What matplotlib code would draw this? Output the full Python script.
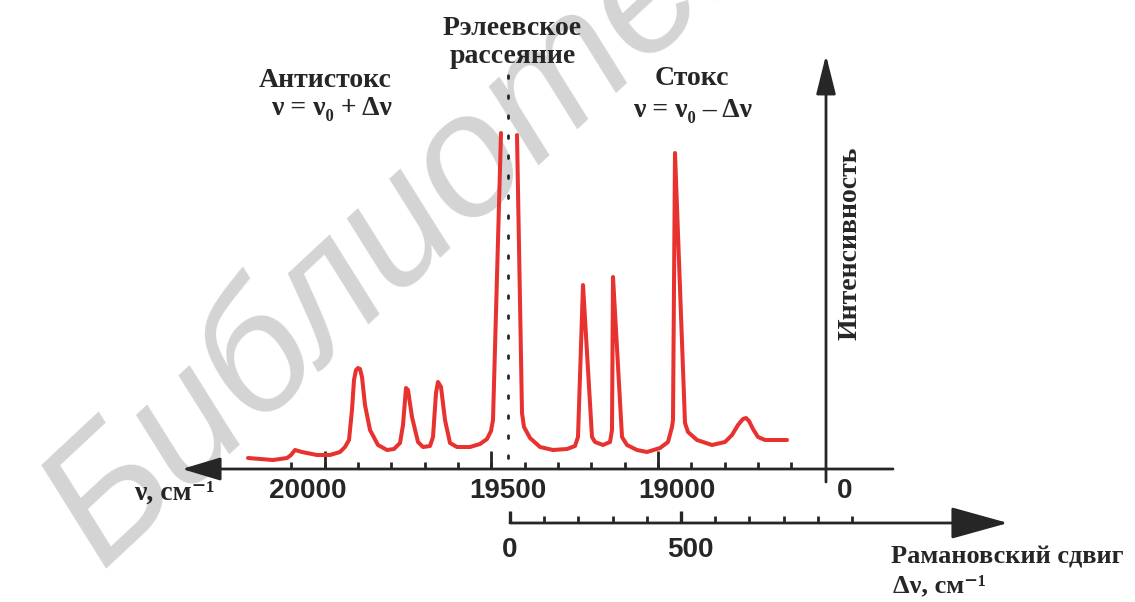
import matplotlib
matplotlib.use("Agg")
import matplotlib.pyplot as plt

# spectrum: wavenumber (cm-1) and intensity (arb. units)
# anti-Stokes side up to the left flank of the Rayleigh line
anti_nu = [20280, 20205, 20163, 20151, 20139, 20118, 20073, 20034, 20004,
           19989, 19977, 19968, 19962, 19956, 19950, 19944, 19938, 19929,
           19914, 19890, 19863, 19842, 19824, 19815, 19806, 19800, 19788,
           19770, 19755, 19734, 19725, 19716, 19710, 19701, 19689, 19674,
           19653, 19614, 19584, 19563, 19551, 19545, 19521]
anti_int = [11, 9, 11, 14, 19, 17, 14, 14, 17,
            22, 29, 59, 89, 99, 101, 100, 92, 64,
            39, 24, 19, 20, 26, 44, 81, 79, 52,
            27, 22, 23, 32, 76, 87, 82, 49, 26,
            22, 22, 25, 30, 38, 49, 336]
# right flank of the Rayleigh line and the Stokes side
stokes_nu = [19473, 19458, 19452, 19434, 19404, 19365, 19323, 19299, 19290,
             19275, 19248, 19239, 19215, 19194, 19188, 19185, 19158, 19143,
             19113, 19083, 19044, 19020, 19008, 19005, 18999, 18969, 18960,
             18933, 18888, 18849, 18828, 18810, 18795, 18786, 18777, 18765,
             18750, 18729, 18663]
stokes_int = [334, 56, 42, 31, 22, 19, 20, 23, 32,
              184, 32, 27, 24, 27, 39, 192, 32, 24,
              19, 17, 21, 27, 42, 49, 316, 46, 37,
              29, 24, 27, 34, 44, 50, 51, 48, 40,
              32, 29, 29]

rayleigh_nu = 19500
nu_ticks_minor = list(range(20150, 18600, -100))
nu_ticks_major = [20050, 19550, 19050]
nu_labels = ["20000", "19500", "19000"]
nu_label_pos = [20100, 19500, 18993]

shift_ticks = list(range(0, 1001, 100))
shift_ticks_major = [0, 500]
shift_labels = ["0", "500"]
shift_label_pos = [0, 526]


def shift_to_nu(d):
    # lower (Raman shift) scale drawn under the wavenumber scale
    return 19494 - 1.026 * d


red = "#e8322f"
ink = "#262626"
serif = ["Liberation Serif", "DejaVu Serif"]
sans = ["Liberation Sans", "DejaVu Sans"]

fig = plt.figure(figsize=(11.35, 6.02), dpi=100)
ax = fig.add_axes([0, 0, 1, 1])
ax.set_xlim(21024, 17619)
ax.set_ylim(-133, 469)
ax.axis("off")

# watermark
ax.text(20720, -100, "Библиотека", fontsize=125, style="italic",
        family=sans, color="#d4d4d4", rotation=43, rotation_mode="anchor",
        ha="left", va="baseline", zorder=0)


def arrow(x0, y0, x1, y1, hl, hw):
    ax.annotate("", xy=(x1, y1), xytext=(x0, y0),
                arrowprops=dict(arrowstyle="-|>,head_length=%s,head_width=%s"
                                % (hl, hw), mutation_scale=10, lw=2,
                                color=ink, shrinkA=0, shrinkB=0), zorder=3)


# axes drawn as arrows
arrow(18345, 0, 20478, 0, 2.4, 0.72)
arrow(18546, -13, 18546, 414, 2.4, 0.6)
arrow(shift_to_nu(0), -54, 18000, -54, 3.6, 1.0)

ax.vlines(nu_ticks_minor, 0, 7, color=ink, lw=2)
ax.vlines(nu_ticks_major, 0, 18, color=ink, lw=2)
ax.vlines([shift_to_nu(d) for d in shift_ticks], -54, -47, color=ink, lw=2)
ax.vlines([shift_to_nu(d) for d in shift_ticks_major], -54, -42,
          color=ink, lw=2.4)

# Rayleigh line position
ax.plot([rayleigh_nu, rayleigh_nu], [11, 409], color=ink, lw=2,
        ls=(0, (1, 6.2)), dash_capstyle="round")

ax.plot(anti_nu, anti_int, color=red, lw=2.9, solid_joinstyle="round",
        solid_capstyle="round", zorder=4)
ax.plot(stokes_nu, stokes_int, color=red, lw=2.9, solid_joinstyle="round",
        solid_capstyle="round", zorder=4)

for lab, pos in zip(nu_labels, nu_label_pos):
    ax.text(pos, -22, lab, fontsize=20, weight="bold", family=sans,
            color=ink, ha="center", va="center")
ax.text(18489, -22, "0", fontsize=20, weight="bold", family=sans,
        color=ink, ha="center", va="center")
for lab, pos in zip(shift_labels, shift_label_pos):
    ax.text(shift_to_nu(pos), -81, lab, fontsize=20, weight="bold",
            family=sans, color=ink, ha="center", va="center")

tkw = dict(fontsize=20, weight="bold", family=serif, color=ink)
ax.text(19488, 434, "Рэлеевское", ha="center", va="baseline", **tkw)
ax.text(19485, 406, "рассеяние", ha="center", va="baseline", **tkw)
ax.text(20049, 382, "Антистокс", ha="center", va="baseline", **tkw)
ax.text(20031, 354, "ν = ν₀ + Δν", ha="center", va="baseline", **tkw)
ax.text(18948, 384, "Стокс", ha="center", va="baseline", **tkw)
ax.text(18945, 352, "ν = ν₀ – Δν", ha="center", va="baseline", **tkw)
ax.text(18474, 226, "Интенсивность", rotation=90, ha="center",
        va="center", **tkw)
ax.text(20379, -24, "ν, см⁻¹", ha="right", va="center", **tkw)
tkw["fontsize"] = 19
ax.text(18351, -88, "Рамановский сдвиг", ha="left", va="center", **tkw)
ax.text(18345, -117, "Δν, см⁻¹", ha="left", va="center", **tkw)

fig.savefig("out.png", dpi=100)
